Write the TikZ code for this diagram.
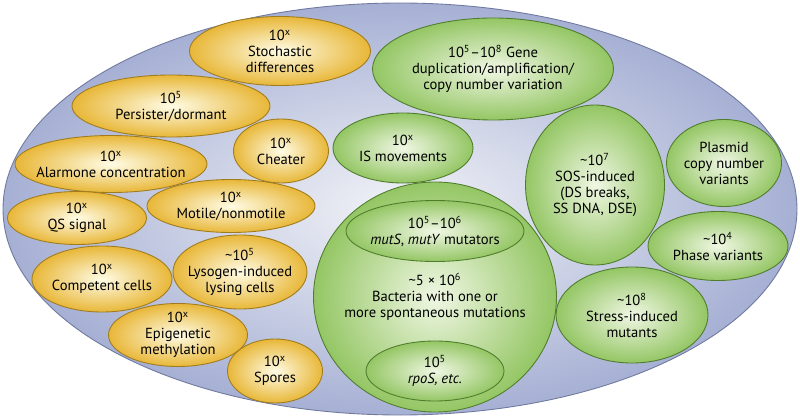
\documentclass[tikz,border=0pt]{standalone}
\usepackage{fontspec}
\setmainfont{PT Sans}
\usetikzlibrary{shapes.geometric}
\definecolor{popedge}{RGB}{166,176,212}
\definecolor{popmid}{RGB}{242,243,247}
\definecolor{popline}{RGB}{112,122,158}
\definecolor{yedge}{RGB}{232,183,56}
\definecolor{ymid}{RGB}{255,252,230}
\definecolor{yline}{RGB}{160,124,30}
\definecolor{gedge}{RGB}{148,198,100}
\definecolor{gmid}{RGB}{240,247,228}
\definecolor{gline}{RGB}{80,125,45}
\tikzset{
  pop/.style={ellipse,draw=popline,line width=0.5pt,inner color=popmid,outer color=popedge,inner sep=0pt},
  yblob/.style={ellipse,draw=yline,line width=0.5pt,inner color=ymid,outer color=yedge,inner sep=0pt},
  gblob/.style={ellipse,draw=gline,line width=0.5pt,inner color=gmid,outer color=gedge,inner sep=0pt},
  txt/.style={align=center,inner sep=0pt,font=\fontsize{8.3}{9.1}\selectfont},
}

\begin{document}
\begin{tikzpicture}[x=0.02cm,y=-0.02cm]
  \def\px{0.02cm}
  \useasboundingbox (0,0) rectangle (800,418);

  % whole population
  \node[pop,minimum width=794*\px,minimum height=412*\px] (pop) at (400,209) {};

  % phenotypic variants (yellow)
  \node[yblob,minimum width=181*\px,minimum height=69*\px,
    label={[txt]center:{10\textsuperscript{x}\\Stochastic\\differences}}] (stoch) at (280,51) {};
  \node[yblob,minimum width=198*\px,minimum height=62*\px,
    label={[txt]center:{10\textsuperscript{5}\\Persister/dormant}}] (persist) at (171,106) {};
  \node[yblob,minimum width=95*\px,minimum height=64*\px,
    label={[txt]center:{10\textsuperscript{x}\\Cheater}}] (cheat) at (281,151) {};
  \node[yblob,minimum width=192*\px,minimum height=57*\px,
    label={[txt]center:{10\textsuperscript{x}\\Alarmone concentration}}] (alarm) at (111,164) {};
  \node[yblob,minimum width=168*\px,minimum height=53*\px,
    label={[txt]center:{10\textsuperscript{x}\\Motile/nonmotile}}] (motile) at (231,206) {};
  \node[yblob,minimum width=139*\px,minimum height=53*\px,
    label={[txt]center:{10\textsuperscript{x}\\QS signal}}] (qs) at (77,218) {};
  \node[yblob,minimum width=140*\px,minimum height=66*\px,
    label={[txt]center:{10\textsuperscript{x}\\Competent cells}}] (comp) at (102,279) {};
  \node[yblob,minimum width=134*\px,minimum height=74*\px,
    label={[txt]center:{\textasciitilde10\textsuperscript{5}\\Lysogen-induced\\lysing cells}}] (lyso) at (240,272) {};
  \node[yblob,minimum width=139*\px,minimum height=63*\px,
    label={[txt]center:{10\textsuperscript{x}\\Epigenetic\\methylation}}] (epi) at (178,335) {};
  \node[yblob,minimum width=95*\px,minimum height=64*\px,
    label={[txt]center:{10\textsuperscript{x}\\Spores}}] (spore) at (275,371) {};

  % genetic variants (green)
  \node[gblob,minimum width=241*\px,minimum height=102*\px,
    label={[txt]center:{10\textsuperscript{5}\textendash10\textsuperscript{8} Gene\\duplication/amplification/\\copy number variation}}] (dup) at (493,69) {};
  \node[gblob,minimum width=140*\px,minimum height=70*\px,
    label={[txt]center:{10\textsuperscript{x}\\IS movements}}] (is) at (403,148) {};
  \node[gblob,minimum width=243*\px,minimum height=230*\px,
    label={[txt]center:{\textasciitilde5 × 10\textsuperscript{6}\\Bacteria with one or\\more spontaneous mutations}}] (spont) at (435,297) {};
  \node[gblob,minimum width=178*\px,minimum height=61*\px,
    label={[txt]center:{10\textsuperscript{5}\textendash10\textsuperscript{6}\\\textit{mutS}, \textit{mutY} mutators}}] (mut) at (435,231) {};
  \node[gblob,minimum width=138*\px,minimum height=60*\px,
    label={[txt]center:{10\textsuperscript{5}\\\textit{rpoS, etc.}}}] (rpos) at (435,371) {};
  \node[gblob,minimum width=139*\px,minimum height=160*\px,
    label={[txt]center:{\textasciitilde10\textsuperscript{7}\\SOS-induced\\(DS breaks,\\SS DNA, DSE)}}] (sos) at (595,185) {};
  \node[gblob,minimum width=115*\px,minimum height=87*\px,
    label={[txt]center:{Plasmid\\copy number\\variants}}] (plasmid) at (724,163) {};
  \node[gblob,minimum width=140*\px,minimum height=69*\px,
    label={[txt]center:{\textasciitilde10\textsuperscript{4}\\Phase variants}}] (phase) at (718,246) {};
  \node[gblob,minimum width=152*\px,minimum height=96*\px,
    label={[txt]center:{\textasciitilde10\textsuperscript{8}\\Stress-induced\\mutants}}] (stress) at (632,315) {};
\end{tikzpicture}
\end{document}
